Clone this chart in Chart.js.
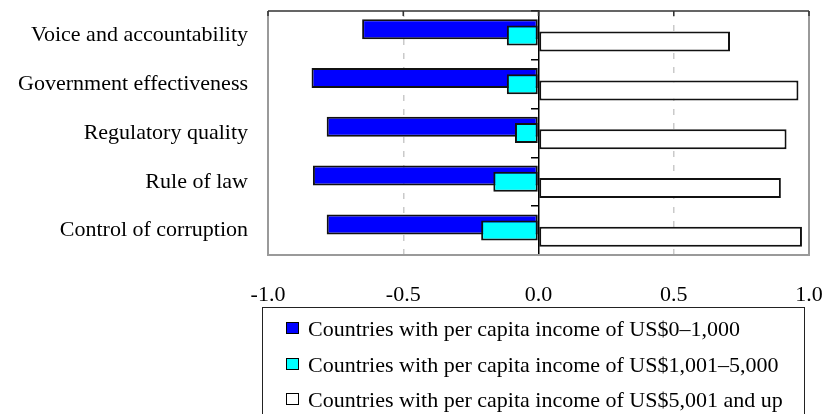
<!DOCTYPE html>
<html>
<head>
<meta charset="utf-8">
<script src="https://cdn.jsdelivr.net/npm/chart.js@4.4.0/dist/chart.umd.min.js"></script>
<style>
  body { margin: 0; background: #fff; }
  .wrap { position: relative; width: 825px; height: 414px; overflow: hidden; }
  #legend {
    position: absolute; left: 262px; top: 307px; width: 543px; height: 130px;
    border: 1px solid #222; box-sizing: border-box;
    font: 22px 'Liberation Serif', 'Times New Roman', serif; color: #000;
  }
  .item { position: absolute; left: 23px; height: 26px; line-height: 26px; padding-left: 22px; white-space: nowrap; }
  .box { position: absolute; left: 0; top: 6px; width: 13px; height: 12px; border: 1px solid #000; box-sizing: border-box; }
</style>
</head>
<body>
<div class="wrap">
  <canvas id="chart" width="825" height="414"></canvas>
  <div id="legend"></div>
</div>
<script>
const categories = ['Voice and accountability', 'Government effectiveness', 'Regulatory quality', 'Rule of law', 'Control of corruption'];
const lowIncome = [-0.652, -0.839, -0.783, -0.834, -0.783];
const midIncome = [-0.117, -0.117, -0.087, -0.167, -0.212];
const highIncome = [0.708, 0.961, 0.917, 0.896, 0.974];
const seriesLabels = [
    'Countries with per capita income of US$0\u20131,000',
    'Countries with per capita income of US$1,001\u20135,000',
    'Countries with per capita income of US$5,001 and up'
];
const seriesColors = ['#0000ff', '#00ffff', '#ffffff'];

const font = { family: "'Liberation Serif', 'Times New Roman', serif", size: 22, lineHeight: 1 };

// legend box under the axis
const legend = document.getElementById('legend');
seriesLabels.forEach((label, i) => {
    const row = document.createElement('div');
    row.className = 'item';
    row.style.top = (8 + i * 35.5) + 'px';
    row.innerHTML = `<span class="box" style="background:${seriesColors[i]}"></span>${label}`;
    legend.append(row);
});

// cyan bars overlap the blue ones, so blue has to be painted first
const drawOrder = {
    id: 'drawOrder',
    beforeDatasetDraw(chart, args) {
        if (args.index === 1) chart.getDatasetMeta(0).controller.draw();
        if (args.index === 0) return false;
    }
};

const frame = {
    id: 'frame',
    afterDraw(chart) {
        const { ctx, chartArea: a, scales: { x } } = chart;
        ctx.save();
        ctx.strokeStyle = '#9a9a9a';
        ctx.lineWidth = 2;
        ctx.beginPath();
        ctx.moveTo(a.left, a.top);
        ctx.lineTo(a.left, a.bottom);
        ctx.lineTo(a.right, a.bottom);
        ctx.lineTo(a.right, a.top);
        ctx.stroke();
        ctx.strokeStyle = '#333';
        ctx.lineWidth = 1.5;
        ctx.beginPath();
        ctx.moveTo(a.left, a.top);
        ctx.lineTo(a.right, a.top);
        x.ticks.forEach(t => {
            const px = x.getPixelForValue(t.value);
            ctx.moveTo(px, a.top);
            ctx.lineTo(px, a.top + 5);
        });
        ctx.stroke();
        ctx.restore();
    }
};

const ctx = document.getElementById('chart').getContext('2d');
new Chart(ctx, {
    type: 'bar',
    data: {
        labels: categories,
        datasets: [
            { label: seriesLabels[0], data: lowIncome, backgroundColor: seriesColors[0] },
            { label: seriesLabels[1], data: midIncome, backgroundColor: seriesColors[1] },
            { label: seriesLabels[2], data: highIncome, backgroundColor: seriesColors[2] }
        ]
    },
    options: {
        indexAxis: 'y',
        responsive: false,
        animation: false,
        layout: { padding: { top: 11, right: 16, left: 0, bottom: 0 } },
        datasets: {
            bar: {
                categoryPercentage: 0.381,
                barPercentage: 3.23,
                borderWidth: 2,
                borderColor: '#111',
                borderSkipped: false
            }
        },
        plugins: {
            legend: { display: false },
            tooltip: { enabled: false }
        },
        scales: {
            x: {
                min: -1,
                max: 1,
                ticks: {
                    stepSize: 0.5,
                    callback: v => Number(v).toFixed(1),
                    font: font,
                    color: '#000',
                    padding: 29,
                    maxRotation: 0
                },
                grid: {
                    color: c => (c.tick && Math.abs(c.tick.value) === 0.5 ? '#cacaca' : 'rgba(0,0,0,0)'),
                    lineWidth: 1.5,
                    drawTicks: false
                },
                border: { display: false, dash: [6, 8] },
                afterFit: s => {
                    s.height = 159;
                    s.paddingLeft = 0;
                    s.paddingRight = 0;
                }
            },
            y: {
                ticks: { font: font, color: '#000', padding: 20 },
                grid: { display: false, drawTicks: false },
                border: { display: false },
                afterFit: s => {
                    s.width = 268;
                    s.paddingTop = 0;
                    s.paddingBottom = 0;
                }
            },
            y2: {
                type: 'category',
                axis: 'y',
                position: { x: 0 },
                offset: true,
                ticks: { display: false },
                grid: { drawOnChartArea: false, offset: true, tickLength: 7, color: '#000', lineWidth: 1.5 },
                border: { color: '#000', width: 1.5, z: 1 }
            }
        }
    },
    plugins: [drawOrder, frame]
});
</script>
</body>
</html>
